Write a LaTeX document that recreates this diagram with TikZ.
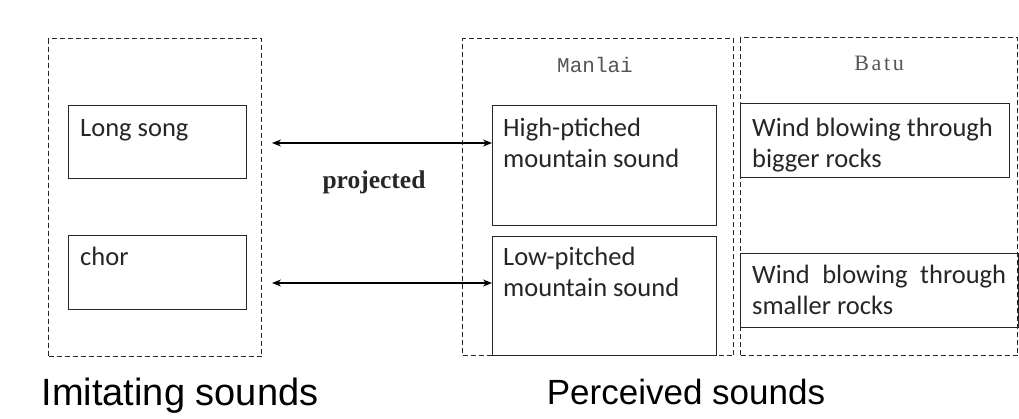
\documentclass[tikz,border=0pt]{standalone}
\usepackage{fontspec}
\setmainfont{Carlito}
\newfontfamily\headfont{Liberation Sans}
\newfontfamily\monofont{Liberation Mono}
\newfontfamily\serfont{Liberation Serif}
\usetikzlibrary{arrows.meta}
\definecolor{txt}{HTML}{262626}
\definecolor{lab}{HTML}{555555}
\newcommand{\boxtext}[2]{\parbox[t]{#1}{\fontsize{26.5}{31.5}\selectfont #2}}
\begin{document}
\begin{tikzpicture}[x=1pt,y=-1pt,
  group/.style={draw=black!85, line width=1.3pt, dash pattern=on 5pt off 3pt, inner sep=0pt, anchor=north west},
  sbox/.style={draw=black!85, line width=1.4pt, inner sep=0pt, anchor=north west},
  btext/.style={anchor=base west, inner sep=0pt, text=txt},
  head/.style={anchor=base, inner sep=0pt, font=\headfont\fontsize{37.5}{42}\selectfont, text=black},
  arr/.style={line width=1.4pt, {Stealth[length=9pt,width=7pt]}-{Stealth[length=9pt,width=7pt]}}]
\useasboundingbox (0,0) rectangle (1019,418);
\fill[white] (0,0) rectangle (1019,418);
% group frames
\node[group, minimum width=213pt, minimum height=318pt] (gL) at (48,38) {};
\node[group, minimum width=271pt, minimum height=317pt] (gM) at (462,38) {};
\node[group, minimum width=277pt, minimum height=318pt] (gB) at (740,37) {};
% group titles
\node[anchor=base, inner sep=0pt, font=\monofont\fontsize{21}{24}\selectfont, text=lab] (tM) at (595,72) {Manlai};
\node[anchor=base, inner sep=0pt, font=\serfont\fontsize{22}{24}\selectfont\addfontfeature{LetterSpace=12}, text=lab] (tB) at (879,70) {Batu};
% boxes
\node[sbox, minimum width=178pt, minimum height=73pt] (ls) at (68,105) {};
\node[sbox, minimum width=178pt, minimum height=74pt] (ch) at (68,235) {};
\node[sbox, minimum width=224pt, minimum height=120pt] (hp) at (492,105) {};
\node[sbox, minimum width=224pt, minimum height=119pt] (lp) at (492,236) {};
\node[sbox, minimum width=269pt, minimum height=74pt] (wb) at (740,103) {};
\node[sbox, minimum width=278pt, minimum height=74pt] (ws) at (740,253) {};
% box texts
\node[btext] (tls) at (80,136) {\boxtext{150pt}{Long song}};
\node[btext] (tch) at (80,265) {\boxtext{150pt}{chor}};
\node[btext] (thp) at (503,136) {\boxtext{205pt}{High-ptiched\\mountain sound}};
\node[btext] (tlp) at (503,265) {\boxtext{205pt}{Low-pitched\\mountain sound}};
\node[btext] (twb) at (752,136) {\boxtext{255pt}{Wind blowing through\\bigger rocks}};
\node[btext] (tws) at (752,283) {\boxtext{254pt}{Wind blowing through smaller rocks}};
% arrows
\coordinate (a1) at (272,143);
\coordinate (a2) at (272,283);
\draw[arr] (a1) -- (a1 -| hp.west);
\draw[arr] (a2) -- (a2 -| lp.west);
\node[anchor=base, inner sep=0pt, font=\serfont\bfseries\fontsize{25.5}{28}\selectfont, text=txt] (pr) at (374,188) {projected};
% headings
\node[head, font=\headfont\fontsize{38}{42}\selectfont] (hI) at (180,405) {Imitating sounds};
\node[head, font=\headfont\fontsize{35}{40}\selectfont] (hP) at (686,404) {Perceived sounds};
\end{tikzpicture}
\end{document}
